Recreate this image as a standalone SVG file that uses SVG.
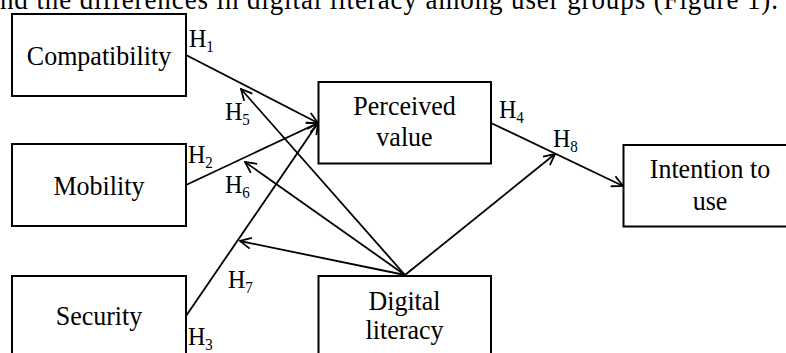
<svg xmlns="http://www.w3.org/2000/svg" width="786" height="353" viewBox="0 0 786 353">
  <style>
    text { font-family: "Liberation Serif", "Times New Roman", serif; fill: #000; }
    .lbl { font-size: 26px; text-anchor: middle; }
    .hyp { font-size: 24px; }
    .sub { font-size: 15px; }
    .box { fill: #fff; stroke: #000; stroke-width: 2; }
    .edge { fill: none; stroke: #000; stroke-width: 1.8; marker-end: url(#arrow); }
  </style>
  <defs>
    <marker id="arrow" viewBox="0 0 13 13" refX="12" refY="6.5" markerWidth="13" markerHeight="13" markerUnits="userSpaceOnUse" orient="auto">
      <path d="M1,1 L12,6.5 L1,12" fill="none" stroke="#000" stroke-width="1.8"/>
    </marker>
  </defs>
  <rect width="786" height="353" fill="#fff"/>

  <!-- running text line above the figure -->
  <text transform="translate(0,9) scale(1,1.08)" font-size="27" textLength="778" lengthAdjust="spacing">nd the differences in digital literacy among user groups (Figure 1).</text>

  <!-- connectors -->
  <g id="connectors">
    <line class="edge" x1="186" y1="55" x2="318" y2="123"/>
    <line class="edge" x1="186" y1="185" x2="318" y2="123"/>
    <line class="edge" x1="186" y1="316" x2="318" y2="123"/>
    <line class="edge" x1="491" y1="123" x2="623" y2="186"/>
    <line class="edge" x1="405" y1="275" x2="241" y2="89"/>
    <line class="edge" x1="405" y1="275" x2="245" y2="162"/>
    <line class="edge" x1="405" y1="275" x2="240" y2="241"/>
    <line class="edge" x1="405" y1="275" x2="555" y2="154"/>
  </g>

  <!-- hypothesis labels -->
  <g id="hypotheses">
    <text class="hyp" transform="translate(189,46.5) scale(1,1.08)">H<tspan class="sub" dy="5">1</tspan></text>
    <text class="hyp" transform="translate(188,163) scale(1,1.08)">H<tspan class="sub" dy="5">2</tspan></text>
    <text class="hyp" transform="translate(188,345) scale(1,1.08)">H<tspan class="sub" dy="5">3</tspan></text>
    <text class="hyp" transform="translate(499,118) scale(1,1.08)">H<tspan class="sub" dy="5">4</tspan></text>
    <text class="hyp" transform="translate(225,120) scale(1,1.08)">H<tspan class="sub" dy="5">5</tspan></text>
    <text class="hyp" transform="translate(225,193) scale(1,1.08)">H<tspan class="sub" dy="5">6</tspan></text>
    <text class="hyp" transform="translate(228,288) scale(1,1.08)">H<tspan class="sub" dy="5">7</tspan></text>
    <text class="hyp" transform="translate(553,146.5) scale(1,1.08)">H<tspan class="sub" dy="5">8</tspan></text>
  </g>

  <!-- nodes -->
  <g id="compatibility">
    <rect class="box" x="12" y="14" width="174" height="82"/>
    <text class="lbl" transform="translate(99,64.5) scale(1,1.08)">Compatibility</text>
  </g>
  <g id="mobility">
    <rect class="box" x="12" y="144" width="174" height="82"/>
    <text class="lbl" transform="translate(99,194.5) scale(1,1.08)">Mobility</text>
  </g>
  <g id="security">
    <rect class="box" x="12" y="276" width="174" height="82"/>
    <text class="lbl" transform="translate(99,325) scale(1,1.08)">Security</text>
  </g>
  <g id="perceived-value">
    <rect class="box" x="318.5" y="82" width="172.5" height="81.5"/>
    <text class="lbl" transform="translate(404.5,115) scale(1,1.08)">Perceived</text>
    <text class="lbl" transform="translate(404.5,146) scale(1,1.08)">value</text>
  </g>
  <g id="intention-to-use">
    <rect class="box" x="623.5" y="145" width="174" height="81.5"/>
    <text class="lbl" transform="translate(710,178) scale(1,1.08)">Intention to</text>
    <text class="lbl" transform="translate(710,209.5) scale(1,1.08)">use</text>
  </g>
  <g id="digital-literacy">
    <rect class="box" x="318.5" y="276" width="172.5" height="82"/>
    <text class="lbl" transform="translate(404.5,309.5) scale(1,1.08)">Digital</text>
    <text class="lbl" transform="translate(404.5,339) scale(1,1.08)">literacy</text>
  </g>
</svg>
